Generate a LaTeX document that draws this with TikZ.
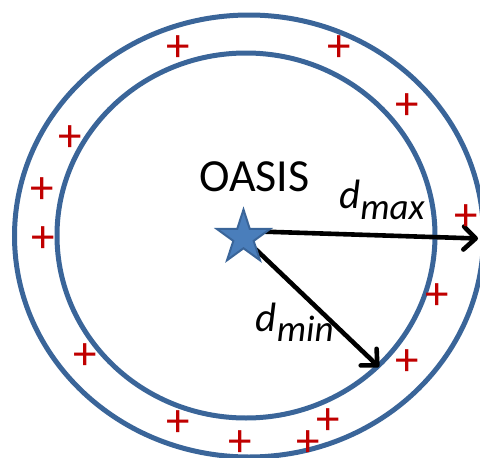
\documentclass[tikz,border=0pt]{standalone}
\usepackage{fontspec}
\setmainfont{Carlito}
\usepackage{tikz}
\usetikzlibrary{positioning,arrows.meta,calc,shapes.geometric}

\definecolor{ringblue}{HTML}{3A6599}
\definecolor{starfill}{HTML}{4A7EBB}
\definecolor{plusred}{HTML}{C00000}

\begin{document}
\begin{tikzpicture}[x=1pt,y=-1pt,
    ring/.style={draw=ringblue,line width=5pt},
    vec/.style={line width=4.6pt,-{Straight Barb[length=12pt,width=23pt,line cap=round,line join=round]}},
    chg/.style={text=plusred,inner sep=0pt,font=\fontsize{47}{47}\selectfont},
    lbl/.style={inner sep=0pt,font=\fontsize{46}{46}\selectfont},
    dlbl/.style={inner sep=0pt,font=\fontsize{41}{41}\selectfont\itshape}]
  \useasboundingbox (0,0) rectangle (480,458);
  \coordinate (Cout) at (249,236);
  \coordinate (Cin) at (246,235.5);
  \coordinate (O) at (243.5,237.6);
  \coordinate (Omax) at (243.5,231);
  \coordinate (Dmax) at (478,238.5);
  \coordinate (Dmin) at (379,367);
  \draw[ring] (Cout) ellipse [x radius=234.5pt,y radius=221pt];
  \draw[ring] (Cin) ellipse [x radius=189pt,y radius=182.5pt];
  \draw[vec] (Omax) -- (Dmax);
  \draw[vec] (O) -- (Dmin);
  \node[star,star points=5,star point ratio=2.618,minimum size=56pt,inner sep=0pt,
        fill=starfill,draw=ringblue,line width=2pt] (star) at (O) {};
  \node[lbl,anchor=base] (oasis) at (254.5,191.3) {OASIS};
  \node[dlbl,anchor=base west] (dmax) at (339,208) {d\raisebox{-11.7pt}{\fontsize{37}{37}\selectfont max}};
  \node[dlbl,anchor=base west] (dmin) at (255.5,331.7) {d\raisebox{-10pt}{\fontsize{37}{37}\selectfont min}};
  \node[chg] (p1) at (178,49) {+};
  \node[chg] (p2) at (339,49) {+};
  \node[chg] (p3) at (407,107) {+};
  \node[chg] (p4) at (70,139) {+};
  \node[chg] (p5) at (42,191) {+};
  \node[chg] (p6) at (43.3,239.3) {+};
  \node[chg] (p7) at (466,218) {+};
  \node[chg] (p8) at (437.5,297) {+};
  \node[chg] (p9) at (85,357) {+};
  \node[chg] (p10) at (407,363) {+};
  \node[chg] (p11) at (178,424) {+};
  \node[chg] (p12) at (328,422) {+};
  \node[chg] (p13) at (240.7,443.5) {+};
  \node[chg] (p14) at (308.5,443.5) {+};
\end{tikzpicture}
\end{document}
